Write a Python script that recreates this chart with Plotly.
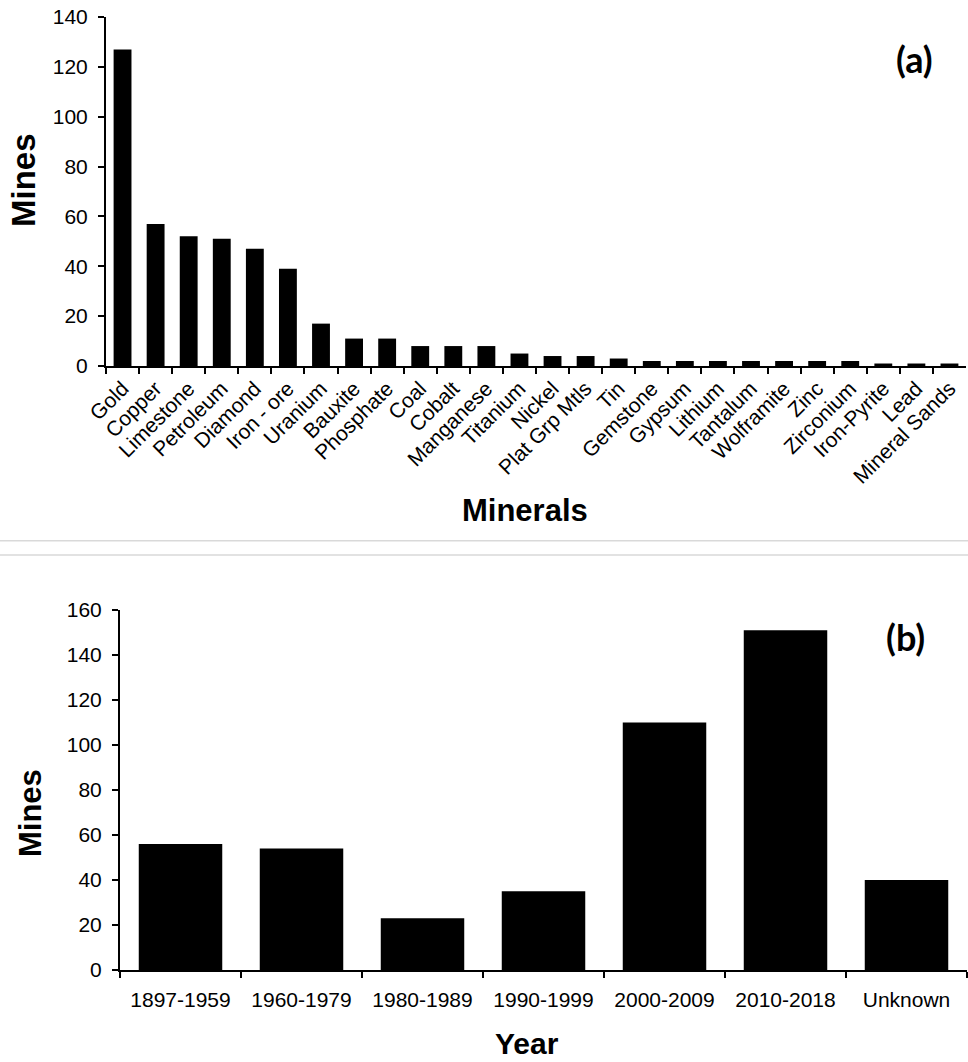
import plotly.graph_objects as go

# Mines by mineral commodity
minerals = ["Gold", "Copper", "Limestone", "Petroleum", "Diamond", "Iron - ore",
            "Uranium", "Bauxite", "Phosphate", "Coal", "Cobalt", "Manganese",
            "Titanium", "Nickel", "Plat Grp Mtls", "Tin", "Gemstone", "Gypsum",
            "Lithium", "Tantalum", "Wolframite", "Zinc", "Zirconium",
            "Iron-Pyrite", "Lead", "Mineral Sands"]
mines_by_mineral = [127, 57, 52, 51, 47, 39, 17, 11, 11, 8, 8, 8, 5, 4, 4, 3,
                    2, 2, 2, 2, 2, 2, 2, 1, 1, 1]

# Mines by start period
periods = ["1897-1959", "1960-1979", "1980-1989", "1990-1999",
           "2000-2009", "2010-2018", "Unknown"]
mines_by_period = [56, 54, 23, 35, 110, 151, 40]

W, H = 968, 1062
FONT = "Liberation Sans, Arial, sans-serif"


def px_x(x):
    return x / W


def px_y(y):
    return (H - y) / H


fig = go.Figure()
fig.add_trace(go.Bar(x=minerals, y=mines_by_mineral, xaxis="x", yaxis="y",
                     width=0.54, marker=dict(color="black", line=dict(width=0))))
fig.add_trace(go.Bar(x=periods, y=mines_by_period, xaxis="x2", yaxis="y2",
                     width=0.69, marker=dict(color="black", line=dict(width=0))))

axis_common = dict(showline=True, linecolor="black", linewidth=2,
                   ticks="outside", ticklen=6, tickwidth=2, tickcolor="black",
                   showgrid=False, zeroline=False, fixedrange=True,
                   automargin=False)

tick_font = dict(size=21, family=FONT, color="black")

fig.update_layout(
    width=W, height=H,
    margin=dict(l=0, r=0, t=0, b=0),
    paper_bgcolor="white", plot_bgcolor="white",
    showlegend=False,
    font=dict(family=FONT, color="black"),
    xaxis=dict(domain=[px_x(106), px_x(966)], anchor="y", type="category",
               tickson="boundaries", tickangle=-45, tickfont=tick_font,
               **axis_common),
    yaxis=dict(domain=[px_y(366), px_y(17)], anchor="x", range=[0, 140],
               dtick=20, tickfont=tick_font, ticklabelstandoff=6,
               **axis_common),
    xaxis2=dict(domain=[px_x(120), px_x(967)], anchor="y2", type="category",
                tickson="boundaries", tickangle=0, tickfont=tick_font,
                ticklabelstandoff=10, **axis_common),
    yaxis2=dict(domain=[px_y(970), px_y(610)], anchor="x2", range=[0, 160],
                dtick=20, tickfont=tick_font, ticklabelstandoff=6,
                **axis_common),
)

# Thin borders separating the two panels
for y in (540.7, 555):
    fig.add_shape(type="line", xref="paper", yref="paper",
                  x0=0, x1=1, y0=px_y(y), y1=px_y(y),
                  line=dict(color="#d9d9d9", width=1.5))


def title_font(size):
    return dict(family=FONT, size=size, color="black")


panel_font = dict(family="Lato, Open Sans, sans-serif", size=36, color="black")

annotations = [
    dict(text="<b>Mines</b>", x=px_x(23), y=px_y(180), textangle=-90, font=title_font(33)),
    dict(text="<b>Minerals</b>", x=px_x(525), y=px_y(510), font=title_font(31)),
    dict(text="<b>(a)</b>", x=px_x(914), y=px_y(59), font=panel_font),
    dict(text="<b>Mines</b>", x=px_x(30), y=px_y(813), textangle=-90, font=title_font(31)),
    dict(text="<b>Year</b>", x=px_x(527), y=px_y(1043), font=title_font(30)),
    dict(text="<b>(b)</b>", x=px_x(905), y=px_y(637), font=panel_font),
]
for a in annotations:
    fig.add_annotation(xref="paper", yref="paper", showarrow=False,
                       xanchor="center", yanchor="middle", **a)

fig.write_html("out.html")
